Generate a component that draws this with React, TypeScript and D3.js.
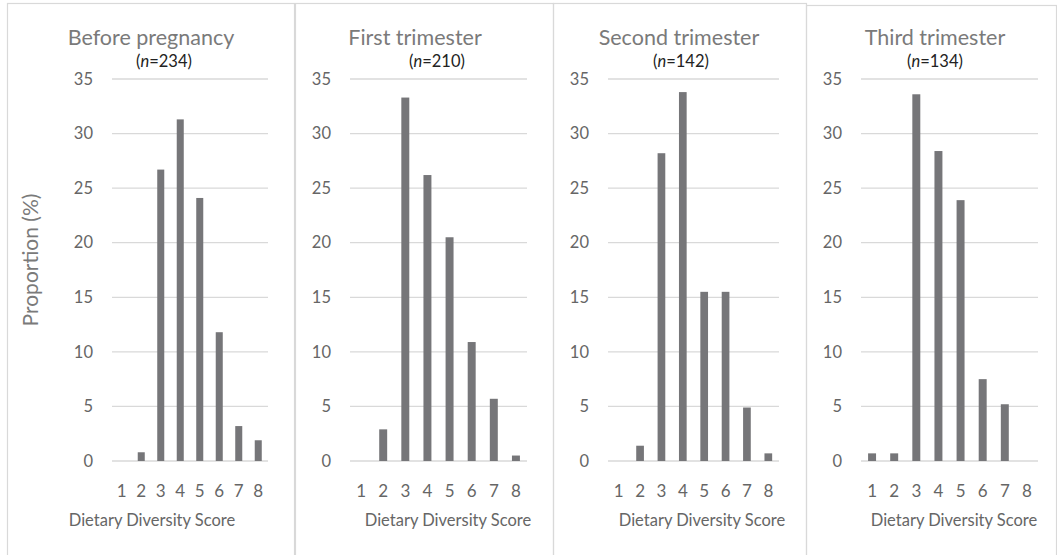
import * as d3 from "d3"

const categories = ["1", "2", "3", "4", "5", "6", "7", "8"]
const beforeValues = [0, 0.8, 26.7, 31.3, 24.1, 11.8, 3.2, 1.9]
const firstValues = [0, 2.9, 33.3, 26.2, 20.5, 10.9, 5.7, 0.5]
const secondValues = [0, 1.4, 28.2, 33.8, 15.5, 15.5, 4.9, 0.7]
const thirdValues = [0.7, 0.7, 33.6, 28.4, 23.9, 7.5, 5.2, 0]
const titles = ["Before pregnancy", "First trimester", "Second trimester", "Third trimester"]
const sampleSizes = ["234", "210", "142", "134"]
const yTicks = [0, 5, 10, 15, 20, 25, 30, 35]

const W = 1057, H = 555
const FONT = "Lato, 'Open Sans', sans-serif"
const BAR = "#767679"
const GRID = "#d9d9d9"
const TXT = "#7a7a7a"

// panel boxes and inner plot ranges (pixels)
const layout = [
  { bx: 7, bx2: 294, by: 3, px: 112, px2: 268, title: 151, n: 164, label: 152 },
  { bx: 295, bx2: 553, by: 3, px: 350, px2: 527, title: 415, n: 437, label: 448 },
  { bx: 553, bx2: 806, by: 3, px: 608, px2: 779, title: 679, n: 681, label: 702 },
  { bx: 806, bx2: 1056, by: 5, px: 861, px2: 1038, title: 935, n: 935, label: 954 },
]

const series = [beforeValues, firstValues, secondValues, thirdValues]

const y = d3.scaleLinear().domain([0, 35]).range([461, 79])

function Panel({ i }: { i: number }) {
  const L = layout[i]
  const vals = series[i]
  const x = d3.scaleBand<string>().domain(categories).range([L.px, L.px2]).paddingInner(0.64).paddingOuter(0.32)
  return (
    <g>
      <rect x={L.bx + 0.5} y={L.by + 0.5} width={L.bx2 - L.bx} height={H - L.by + 2} fill="none" stroke="#d9d9d9" strokeWidth={1.2} />
      {yTicks.map(t => (
        <g key={t}>
          <line x1={L.px} x2={L.px2} y1={y(t)} y2={y(t)} stroke={GRID} strokeWidth={1.3} />
          <text x={L.px - 19} y={y(t)} dy="0.35em" textAnchor="end" fill="#666" fontSize={16.5}>{t}</text>
        </g>
      ))}
      {vals.map((v, j) => (
        <rect key={j} x={x(categories[j])!} width={x.bandwidth()} y={y(v)} height={y(0) - y(v)} fill={BAR} />
      ))}
      {categories.map(c => (
        <text key={c} x={x(c)! + x.bandwidth() / 2} y={497} textAnchor="middle" fill="#666" fontSize={17}>{c}</text>
      ))}
      <text x={L.title} y={45} textAnchor="middle" fill={TXT} fontSize={21.5}>{titles[i]}</text>
      <text x={L.n} y={67} textAnchor="middle" fill="#222" fontSize={16.5}>
        (<tspan fontStyle="italic">n</tspan>={sampleSizes[i]})
      </text>
      <text x={L.label} y={526} textAnchor="middle" fill="#666" fontSize={16.5}>Dietary Diversity Score</text>
    </g>
  )
}

export default function App() {
  return (
    <svg width={W} height={H} style={{ position: "absolute", left: 0, top: 0, background: "#fff", fontFamily: FONT }}>
      <rect width={W} height={H} fill="#fff" />
      {layout.map((_, i) => <Panel key={i} i={i} />)}
      <text transform={`translate(38,260) rotate(-90)`} textAnchor="middle" fill={TXT} fontSize={21}>Proportion (%)</text>
    </svg>
  )
}
